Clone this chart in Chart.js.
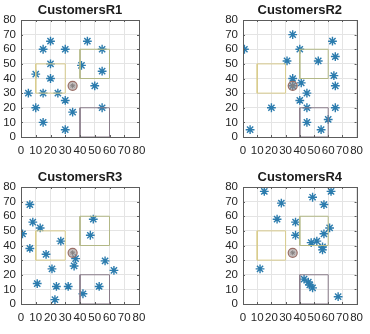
<!DOCTYPE html>
<html><head><meta charset="utf-8">
<script src="https://cdn.jsdelivr.net/npm/chart.js@4/dist/chart.umd.min.js"></script>
<style>
html,body{margin:0;padding:0;background:#fff;width:370px;height:334px;overflow:hidden}
.cell{position:absolute;width:185px;height:167px}
</style></head><body>
<div class="cell" style="left:0;top:0"><canvas id="c1"></canvas></div>
<div class="cell" style="left:185px;top:0"><canvas id="c2"></canvas></div>
<div class="cell" style="left:0;top:167px"><canvas id="c3"></canvas></div>
<div class="cell" style="left:185px;top:167px"><canvas id="c4"></canvas></div>
<script>
const titles = ["CustomersR1","CustomersR2","CustomersR3","CustomersR4"];
const tickValues = [0,10,20,30,40,50,60,70,80];

const r1x = [5,10,10,15,15,15,20,20,20,25,30,30,30,35,41,45,50,55,55,55];
const r1y = [30,43,20,60,30,10,65.5,50,40,30,60,25,5,17,49,65.5,35,60,45,20];

const r2x = [1,5,20,31,35,35,35,40,41,40,45,45,45,53,55,60,63,65,64,65,65];
const r2y = [60,5,20,52,70,40,35,60,37,25,30,20,10,52,5,12,65.5,55,42,35,20];

const r3x = [6,8,1,6,13,11,17,21,27,24,23,32,37,36,42,47,49,53,57,63];
const r3y = [68,56,48,38,52,14,34,24,43,12,3,12,31,26,7,47,58,12,29.5,23];

const r4x = [15,12,24,27,37,37,49,48,52,56,56,57,57,61,62,43,46,47,49,67];
const r4y = [77,24,58,69,56,47,73,42,43,39,37,68,48,52,77,17,15,13,11,5];

const depotX = [35];
const depotY = [35];

const yellowRectX = [10,30,30,10,10];
const yellowRectY = [30,30,50,50,30];
const greenRectX  = [40,60,60,40,40];
const greenRectY  = [40,40,60,60,40];
const purpleRectX = [40,60,60,40,40];
const purpleRectY = [0,0,20,20,0];

const custX = [r1x,r2x,r3x,r4x];
const custY = [r1y,r2y,r3y,r4y];

function pts(xs,ys){return xs.map((x,i)=>({x:x,y:ys[i]}));}

const boxPlugin = {
  id:'boxPlugin',
  afterDatasetsDraw(chart){
    const a = chart.chartArea, ctx = chart.ctx;
    const xs = chart.scales.x, ys = chart.scales.y;
    ctx.save();
    ctx.strokeStyle = '#5c5c5c';
    ctx.lineWidth = 1;
    ctx.beginPath();
    tickValues.forEach(v=>{
      const px = Math.round(xs.getPixelForValue(v))+0.5;
      ctx.moveTo(px,a.bottom); ctx.lineTo(px,a.bottom-2);
      ctx.moveTo(px,a.top); ctx.lineTo(px,a.top+2);
      const py = Math.round(ys.getPixelForValue(v))+0.5;
      ctx.moveTo(a.left,py); ctx.lineTo(a.left+2,py);
      ctx.moveTo(a.right,py); ctx.lineTo(a.right-2,py);
    });
    ctx.stroke();
    ctx.strokeRect(Math.round(a.left)+0.5, Math.round(a.top)+0.5, Math.round(a.right-a.left), Math.round(a.bottom-a.top));
    ctx.restore();
  },
  afterDraw(chart, args, opts){
    const a = chart.chartArea, ctx = chart.ctx;
    ctx.save();
    ctx.fillStyle = '#1a1a1a';
    ctx.font = 'bold 13px "Liberation Sans", Arial, sans-serif';
    ctx.textAlign = 'center';
    ctx.textBaseline = 'middle';
    ctx.fillText(opts.text, (a.left+a.right)/2, 10);
    ctx.restore();
  }
};

const tickFont = {family:'"Liberation Sans", Arial, sans-serif', size:11.5};

function makeChart(id, idx, padLeft, padRight){
  const datasets = [
    {data:pts(yellowRectX,yellowRectY), showLine:true, borderColor:'#d8cb8c', borderWidth:1, pointRadius:0, fill:false},
    {data:pts(greenRectX,greenRectY), showLine:true, borderColor:'#b3b887', borderWidth:1, pointRadius:0, fill:false},
    {data:pts(purpleRectX,purpleRectY), showLine:true, borderColor:'#8a7c8a', borderWidth:1, pointRadius:0, fill:false},
    {data:pts(depotX,depotY), pointStyle:'circle', pointRadius:4.5, borderColor:'#9a6e66', backgroundColor:'rgba(150,140,140,0.55)', borderWidth:1.2, showLine:false},
    {data:pts(depotX,depotY), pointStyle:'star', pointRadius:2.5, borderColor:'#707070', borderWidth:1, showLine:false},
    {data:pts(custX[idx],custY[idx]), pointStyle:'star', pointRadius:4.4, borderColor:'#2c7cae', backgroundColor:'#2c7cae', borderWidth:1.4, showLine:false}
  ];
  new Chart(document.getElementById(id), {
    type:'scatter',
    data:{datasets},
    plugins:[boxPlugin],
    options:{
      responsive:true, maintainAspectRatio:false, animation:false,
      layout:{padding:{top:20,left:padLeft,right:padRight,bottom:0}},
      plugins:{legend:{display:false}, tooltip:{enabled:false}, title:{display:false}, boxPlugin:{text:titles[idx]}},
      scales:{
        x:{type:'linear', min:0, max:80,
           afterBuildTicks(s){s.ticks = tickValues.map(v=>({value:v}));},
           afterFit(s){s.height = 30;},
           grid:{color:'#e4e4e4', drawTicks:false, tickLength:0},
           border:{display:false},
           ticks:{font:tickFont, color:'#262626', padding:7, autoSkip:false, maxRotation:0, minRotation:0}},
        y:{type:'linear', min:0, max:80,
           afterBuildTicks(s){s.ticks = tickValues.map(v=>({value:v}));},
           afterFit(s){s.width = 21;},
           grid:{color:'#e4e4e4', drawTicks:false, tickLength:0},
           border:{display:false},
           ticks:{font:tickFont, color:'#262626', padding:5, autoSkip:false}}
      }
    }
  });
}
makeChart('c1',0,0,46);
makeChart('c2',1,37,9);
makeChart('c3',2,0,46);
makeChart('c4',3,37,9);
</script>
</body></html>
